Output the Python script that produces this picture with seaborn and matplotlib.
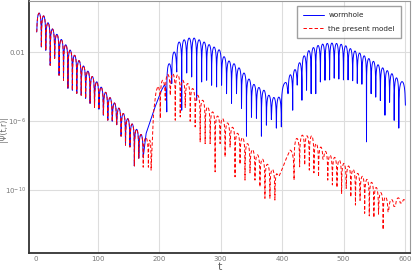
#!/usr/bin/env python3
import numpy as np
import pandas as pd
import matplotlib
matplotlib.use("Agg")
import matplotlib.pyplot as plt
import matplotlib.ticker as mticker
import seaborn as sns

# ringdown shared by both models: times, log10|Psi|, node kind (d = cusp/dip, p = arch top)
ring_t = [1.0, 5.0, 8.6, 12.2, 15.8, 19.4, 23.0, 26.6, 30.2, 33.8, 37.4, 41.0,
          44.6, 48.2, 51.8, 55.4, 59.0, 62.6, 66.2, 69.8, 73.4, 77.0, 80.6, 84.2,
          87.8, 91.4, 95.0, 98.6, 102.2, 105.8, 109.4, 113.0, 116.6, 120.2, 123.8, 127.4,
          131.0, 134.6, 138.2, 141.8, 145.4, 149.0, 152.6, 156.2, 159.8, 163.4, 167.0, 170.6]
ring_logv = [-0.82, 0.28, -1.69, 0.12, -1.88, -0.28, -2.75, -0.64, -2.35, -0.95, -3.33, -1.25,
             -3.62, -1.56, -4.09, -1.87, -4.2, -2.17, -4.38, -2.48, -4.49, -2.79, -4.67, -3.09,
             -4.96, -3.40, -5.19, -3.71, -5.3, -4.02, -5.65, -4.32, -5.94, -4.63, -6.0, -4.94,
             -6.2, -5.24, -6.87, -5.55, -7.39, -5.85, -7.5, -6.16, -8.6, -6.47, -8.15, -6.77]
ring_kind = "dp" * 24

# wormhole: echoes after the ringdown (l = plain line node)
blue_t = [174.2, 179.0, 193.5, 204.0, 208.5, 212.5, 216.5, 220.6, 224.6, 228.7, 232.7, 236.8,
          240.8, 244.9, 248.9, 253.0, 257.0, 261.1, 265.1, 269.2, 273.2, 277.3, 281.3, 285.4,
          289.4, 293.5, 297.5, 301.6, 305.6, 309.7, 313.7, 317.8, 321.8, 325.9, 329.9, 334.0,
          338.0, 342.1, 346.1, 350.2, 354.2, 358.3, 362.3, 366.4, 370.4, 374.5, 378.5, 382.6,
          386.6, 390.7, 394.7, 398.8, 406.0, 409.75, 413.5, 417.25, 421.0, 424.75, 428.5, 432.25,
          436.0, 439.75, 443.5, 447.25, 451.0, 454.75, 458.5, 462.25, 466.0, 469.75, 473.5, 477.25,
          481.0, 484.75, 488.5, 492.25, 496.0, 499.75, 503.5, 507.25, 511.0, 514.75, 518.5, 522.25,
          526.0, 529.75, 533.5, 537.25, 541.0, 544.75, 548.5, 552.25, 556.0, 559.75, 563.5, 567.25,
          571.0, 574.75, 578.5, 582.25, 586.0, 589.75, 595.0, 600.5]
blue_logv = [-8.1, -6.7, -5.17, -4.2, -3.9, -5.46, -2.66, -3.81, -1.98, -3.14, -1.40, -5.36,
             -1.27, -3.2, -1.17, -3.43, -1.17, -4.78, -1.27, -3.72, -1.40, -3.62, -1.55, -3.91,
             -1.69, -4.01, -1.85, -3.91, -2.25, -4.4, -2.5, -4.96, -2.66, -4.4, -2.9, -5.25,
             -3.2, -6.87, -3.55, -5.77, -3.86, -5.83, -4.04, -6.87, -4.2, -6.23, -4.49, -5.9,
             -4.62, -6.4, -4.6, -6.33, -3.75, -4.4, -3.3, -5.36, -3.0, -3.9, -2.6, -4.78,
             -2.2, -4.2, -1.9, -4.4, -1.72, -4.4, -1.6, -3.72, -1.52, -3.62, -1.48, -3.6,
             -1.46, -3.5, -1.48, -3.55, -1.53, -3.6, -1.62, -3.6, -1.78, -3.65, -1.92, -3.8,
             -2.04, -3.85, -2.2, -7.2, -2.36, -4.4, -2.52, -4.6, -2.72, -4.8, -2.9, -5.65,
             -3.06, -4.9, -3.24, -5.95, -3.48, -6.4, -3.7, -5.07]
blue_kind = "dlllp" + "dp" * 49 + "d"

# the present model
red_t = [174.2, 178.4, 182.6, 184.8, 187.0, 191.0, 195.0, 198.0, 202.0, 206.0, 210.1, 214.1,
         218.2, 222.2, 226.3, 230.3, 234.4, 238.4, 242.5, 246.5, 250.6, 254.6, 258.7, 262.7,
         266.8, 270.8, 274.9, 278.9, 283.0, 287.0, 291.1, 295.1, 299.2, 303.2, 307.3, 311.3,
         315.4, 319.4, 323.5, 327.5, 331.6, 335.6, 339.7, 343.7, 347.8, 351.8, 355.9, 359.9,
         364.0, 368.0, 372.1, 376.1, 380.2, 384.2, 388.3, 391.5, 395.0, 401.0, 407.0, 413.0,
         419.5, 424.0, 428.5, 433.0, 436.75, 440.5, 444.25, 448.0, 451.75, 455.5, 459.25, 463.0,
         466.75, 470.5, 474.25, 478.0, 481.75, 485.5, 489.25, 493.0, 496.75, 500.5, 504.25, 508.0,
         511.75, 515.5, 519.25, 523.0, 526.75, 530.5, 534.25, 538.0, 541.75, 545.5, 549.25, 553.0,
         556.75, 560.5, 564.25, 568.0, 572.5, 578.0, 583.0, 589.0, 593.5, 598.0, 601.0]
red_logv = [-8.67, -6.95, -8.67, -7.1, -8.84, -5.5, -4.3, -3.97, -5.83, -3.62, -4.78, -3.28,
            -4.5, -3.24, -5.94, -3.3, -5.75, -3.62, -5.2, -3.81, -6.0, -4.1, -6.33, -4.49,
            -7.2, -4.78, -7.3, -5.17, -7.3, -5.46, -8.94, -5.7, -7.3, -5.85, -8.07, -6.1,
            -7.5, -6.35, -9.23, -6.7, -8.5, -6.95, -9.42, -7.3, -9.0, -7.65, -9.42, -7.95,
            -9.81, -8.2, -10.48, -8.5, -10.48, -8.8, -10.58, -9.05, -9.2, -8.7, -8.15, -7.68,
            -9.42, -7.0, -8.65, -6.81, -8.55, -6.85, -8.84, -6.85, -9.0, -7.3, -9.23, -7.5,
            -8.2, -7.75, -9.42, -7.97, -9.7, -8.1, -9.85, -8.26, -10.2, -8.45, -9.9, -8.6,
            -10.4, -8.8, -10.87, -9.03, -10.6, -9.2, -11.35, -9.38, -11.5, -9.55, -11.6, -9.85,
            -11.4, -10.15, -12.3, -10.4, -11.26, -10.55, -10.95, -10.45, -10.75, -10.55, -10.62]
red_kind = "dpdpdllp" + "dp" * 24 + "lllp" + "dp" * 23 + "l"


def trace(ts, vs, kinds):
    """Turn the nodes into a drawable |Psi| curve: arches between cusps."""
    out_t, out_v = [ts[0]], [vs[0]]
    s = np.linspace(0, 1, 17)[1:]
    for i in range(len(ts) - 1):
        t0, t1, v0, v1 = ts[i], ts[i + 1], vs[i], vs[i + 1]
        pair = kinds[i] + kinds[i + 1]
        if pair == "dp":
            v = np.maximum(v1 + np.log10(np.clip(np.sin(np.pi / 2 * s), 1e-30, None)), v0)
        elif pair == "pd":
            v = np.maximum(v0 + np.log10(np.clip(np.cos(np.pi / 2 * s), 1e-30, None)), v1)
        else:
            out_t.append(t1)
            out_v.append(v1)
            continue
        out_t.extend(t0 + (t1 - t0) * s)
        out_v.extend(v)
    return np.array(out_t), 10.0 ** np.array(out_v)


bt, bv = trace(ring_t + blue_t, ring_logv + blue_logv, ring_kind + blue_kind)
rt, rv = trace(ring_t + red_t, ring_logv + red_logv, ring_kind + red_kind)
df = pd.concat([
    pd.DataFrame({"t": bt, "value": bv, "model": "wormhole"}),
    pd.DataFrame({"t": rt, "value": rv, "model": "the present model"}),
])

sns.set_theme(style="white")
plt.rcParams["font.family"] = ["DejaVu Sans"]

fig, ax = plt.subplots(figsize=(4.15, 2.77), dpi=100)
fig.subplots_adjust(left=0.07, right=0.988, bottom=0.087, top=0.998)

order = ["wormhole", "the present model"]
sns.lineplot(data=df, x="t", y="value", hue="model", style="model",
             hue_order=order, style_order=order,
             palette={"wormhole": "#0000ff", "the present model": "#ff0000"},
             dashes={"wormhole": "", "the present model": (3.5, 2.2)},
             estimator=None, sort=False, lw=0.7, ax=ax)

ax.set_yscale("log")
ax.set_xlim(-11.4, 608)
ax.set_ylim(10 ** -13.65, 10 ** 1.01)

ax.set_xticks(range(0, 601, 100))
ax.set_xticks(range(0, 601, 20), minor=True)
ax.set_yticks([1e-2, 1e-6, 1e-10])
ax.set_yticklabels(["0.01", r"$10^{-6}$", r"$10^{-10}$"])
ax.yaxis.set_minor_locator(mticker.FixedLocator(
    [10.0 ** k for k in range(-13, 2) if k not in (-2, -6, -10)]))
ax.yaxis.set_minor_formatter(mticker.NullFormatter())
ax.tick_params(which="both", direction="in", colors="#555555", labelcolor="#777777",
               labelsize=5.0)
ax.tick_params(axis="x", pad=2)
ax.tick_params(axis="y", pad=2.5)
ax.tick_params(which="major", length=4, width=0.6)
ax.tick_params(which="minor", length=2.5, width=0.5)
ax.grid(True, which="major", color="#dddddd", lw=0.8)
ax.xaxis.get_gridlines()[0].set_visible(False)

for side in ["left", "bottom"]:
    ax.spines[side].set_color("#333333")
    ax.spines[side].set_linewidth(1.3)
for side in ["top", "right"]:
    ax.spines[side].set_color("#999999")
    ax.spines[side].set_linewidth(0.8)

ax.set_xlabel("t", fontsize=8, color="#666666", labelpad=0)
ax.set_ylabel("|Ψ(t,r)|", fontsize=5.5, color="#666666")
ax.yaxis.set_label_coords(-0.054, 0.49)

handles, labels = ax.get_legend_handles_labels()
ax.legend(handles, labels, loc="upper right", bbox_to_anchor=(0.976, 0.978),
          borderaxespad=0, fontsize=5.2, frameon=True, fancybox=False,
          edgecolor="#888888", handlelength=2.85, handletextpad=0.6,
          borderpad=0.85, labelspacing=1.05)

plt.savefig("out.png", dpi=100)
